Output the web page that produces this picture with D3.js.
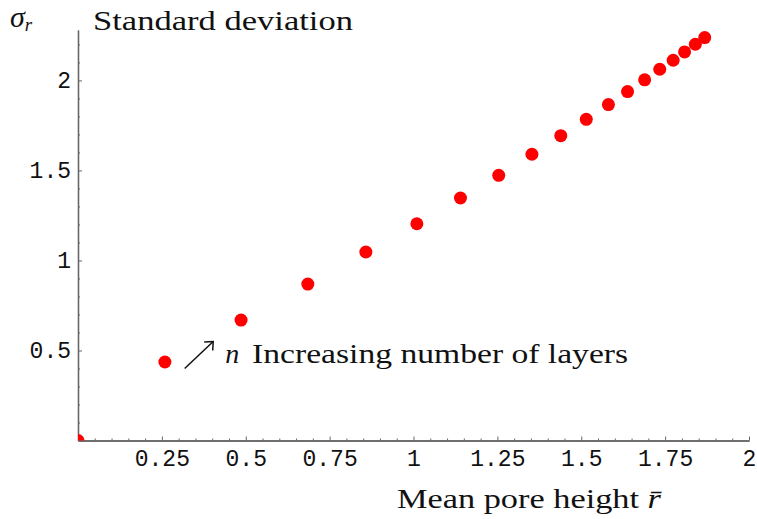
<!DOCTYPE html>
<meta charset="utf-8">
<style>
body { margin: 0; background: #fff; }
.axis path, .axis line { stroke: #666; }
.axis text { font: 23px "Liberation Mono", "Courier New", monospace; fill: #111; }
.lbl { font-family: "Liberation Serif", "Times New Roman", serif; font-size: 28px; fill: #111; }
</style>
<svg width="757" height="519"></svg>
<script src="https://d3js.org/d3.v7.min.js"></script>
<script>

// mean pore height (x) vs standard deviation (y), one point per layer count
var meanHeight = [0, 0.259, 0.486, 0.685, 0.858, 1.010, 1.140, 1.254, 1.353, 1.439,
                  1.515, 1.581, 1.638, 1.689, 1.734, 1.774, 1.808, 1.840, 1.868];
var stdDev     = [0, 0.436, 0.669, 0.869, 1.047, 1.204, 1.347, 1.473, 1.590, 1.693,
                  1.784, 1.866, 1.938, 2.003, 2.062, 2.112, 2.158, 2.201, 2.238];

var xTicks = [0.25, 0.5, 0.75, 1, 1.25, 1.5, 1.75, 2];
var xTickLabels = ["0.25", "0.5", "0.75", "1", "1.25", "1.5", "1.75", "2"];
var yTicks = [0.5, 1, 1.5, 2];
var yTickLabels = ["0.5", "1", "1.5", "2"];

var svg = d3.select("svg");

var x = d3.scaleLinear().domain([0, 2]).range([78, 749]);
var y = d3.scaleLinear().domain([0, 2.28]).range([440.5, 30]);

var xMinor = d3.range(0.05, 2.001, 0.05).filter(function(v) { return Math.abs(v / 0.25 - Math.round(v / 0.25)) > 1e-6; });
var yMinor = d3.range(0.1, 2.28, 0.1).filter(function(v) { return Math.abs(v / 0.5 - Math.round(v / 0.5)) > 1e-6; });

// minor ticks
svg.append("g").attr("class", "axis")
    .attr("transform", "translate(0," + y(0) + ")")
    .call(d3.axisBottom(x).tickValues(xMinor).tickSize(-2).tickSizeOuter(0).tickFormat(""));
svg.append("g").attr("class", "axis")
    .attr("transform", "translate(" + x(0) + ",0)")
    .call(d3.axisLeft(y).tickValues(yMinor).tickSize(-2).tickSizeOuter(0).tickFormat(""));

// major ticks + labels
svg.append("g").attr("class", "axis")
    .attr("transform", "translate(0," + y(0) + ")")
    .call(d3.axisBottom(x).tickValues(xTicks).tickSize(-4).tickSizeOuter(0).tickPadding(9)
        .tickFormat(function(d, i) { return xTickLabels[i]; }));
svg.append("g").attr("class", "axis")
    .attr("transform", "translate(" + x(0) + ",0)")
    .call(d3.axisLeft(y).tickValues(yTicks).tickSize(-4).tickSizeOuter(0).tickPadding(7)
        .tickFormat(function(d, i) { return yTickLabels[i]; }));

svg.selectAll(".axis path").attr("stroke-width", 1.3);

svg.append("clipPath").attr("id", "plot")
  .append("rect")
    .attr("x", x(0)).attr("y", y.range()[1])
    .attr("width", x(2) - x(0)).attr("height", y(0) - y.range()[1]);

svg.append("g").attr("clip-path", "url(#plot)")
  .selectAll("circle")
  .data(meanHeight)
  .enter().append("circle")
    .attr("cx", function(d) { return x(d); })
    .attr("cy", function(d, i) { return y(stdDev[i]); })
    .attr("r", 6.5)
    .attr("fill", "#ff0000");

// axis titles
var yt = svg.append("text").attr("class", "lbl").attr("x", 10).attr("y", 27);
yt.append("tspan").attr("font-style", "italic").attr("font-size", 30).text("σ");
yt.append("tspan").attr("font-style", "italic").attr("font-size", 19).attr("dy", 4).text("r");
svg.append("text").attr("class", "lbl").attr("x", 93).attr("y", 30)
    .attr("textLength", 260).attr("lengthAdjust", "spacingAndGlyphs")
    .text("Standard deviation");

var xt = svg.append("text").attr("class", "lbl").attr("x", 397).attr("y", 508)
    .attr("textLength", 264).attr("lengthAdjust", "spacingAndGlyphs");
xt.append("tspan").text("Mean pore height ");
xt.append("tspan").attr("font-style", "italic").text("r\u0304");

// annotation: arrow + text
var ax0 = x(0.318), ay0 = y(0.40), ax1 = x(0.403), ay1 = y(0.55);
svg.append("line").attr("x1", ax0).attr("y1", ay0).attr("x2", ax1).attr("y2", ay1)
    .attr("stroke", "#111").attr("stroke-width", 1.5);
svg.append("path")
    .attr("d", "M" + (ax1 - 9) + "," + (ay1 + 0.5) + "L" + ax1 + "," + ay1 + "L" + (ax1 - 0.5) + "," + (ay1 + 9))
    .attr("fill", "none").attr("stroke", "#111").attr("stroke-width", 1.5);

svg.append("text").attr("class", "lbl").attr("x", x(0.439)).attr("y", 363)
    .attr("font-style", "italic").text("n");
svg.append("text").attr("class", "lbl").attr("x", x(0.519)).attr("y", 363)
    .attr("textLength", 376).attr("lengthAdjust", "spacingAndGlyphs")
    .text("Increasing number of layers");

</script>
